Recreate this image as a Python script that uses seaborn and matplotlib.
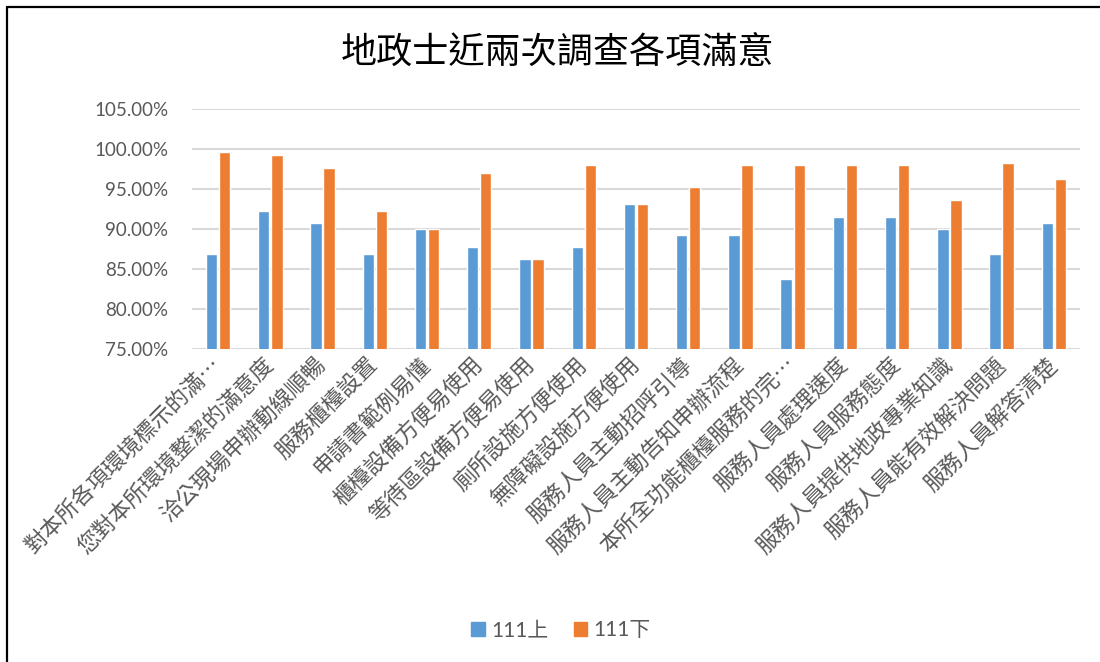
"""
地政士近兩次調查各項滿意度 — grouped bar chart (111上 vs 111下)
"""

import pandas as pd
import matplotlib
matplotlib.use("Agg")
import matplotlib.pyplot as plt
import seaborn as sns
from matplotlib.lines import Line2D
from matplotlib.ticker import FuncFormatter

# ---------------------------------------------------------------------------
# DATA (percent)
# ---------------------------------------------------------------------------
ITEMS = [
    "對本所各項環境標示的滿…",
    "您對本所環境整潔的滿意度",
    "洽公現場申辦動線順暢",
    "服務櫃檯設置",
    "申請書範例易懂",
    "櫃檯設備方便易使用",
    "等待區設備方便易使用",
    "廁所設施方便使用",
    "無障礙設施方便使用",
    "服務人員主動招呼引導",
    "服務人員主動告知申辦流程",
    "本所全功能櫃檯服務的完…",
    "服務人員處理速度",
    "服務人員服務態度",
    "服務人員提供地政專業知識",
    "服務人員能有效解決問題",
    "服務人員解答清楚",
]
SERIES = ["111上", "111下"]
SCORE_111A = [86.9, 92.3, 90.8, 86.9, 90.0, 87.7, 86.2, 87.7, 93.1,
              89.2, 89.2, 83.8, 91.5, 91.5, 90.0, 86.9, 90.8]
SCORE_111B = [99.6, 99.3, 97.6, 92.3, 90.0, 97.0, 86.2, 98.0, 93.1,
              95.3, 98.0, 98.0, 98.0, 98.0, 93.6, 98.3, 96.3]
Y_TICKS = [75, 80, 85, 90, 95, 100, 105]

COLORS = {"111上": "#5B9BD5", "111下": "#ED7D31"}
TEXT_GRAY = "#595959"
GRID_GRAY = "#D9D9D9"

sns.set_style("white")
plt.rcParams["font.family"] = ["Lato", "Noto Sans CJK TC", "DejaVu Sans"]
CJK = ["Noto Sans CJK TC", "DejaVu Sans"]

df = pd.DataFrame({
    "item": ITEMS * 2,
    "period": [SERIES[0]] * len(ITEMS) + [SERIES[1]] * len(ITEMS),
    "score": SCORE_111A + SCORE_111B,
})

fig = plt.figure(figsize=(11, 6.62), dpi=100)
ax = fig.add_axes([0.1745, 0.4728, 0.8073, 0.3625])

sns.barplot(data=df, x="item", y="score", hue="period", order=ITEMS,
            hue_order=SERIES, palette=COLORS, saturation=1, width=0.5,
            gap=0.13, errorbar=None, ax=ax, zorder=3, legend=False)

ax.set_ylim(75, 105)
ax.set_xlim(-0.5, len(ITEMS) - 0.5)
ax.set_yticks(Y_TICKS)
ax.yaxis.set_major_formatter(FuncFormatter(lambda v, _: f"{v:.2f}%"))
ax.grid(axis="y", color=GRID_GRAY, linewidth=1.5, zorder=0)
ax.set_axisbelow(True)
for s in ax.spines.values():
    s.set_visible(False)
ax.set_xlabel("")
ax.set_ylabel("")
ax.tick_params(axis="y", length=0, pad=17, labelsize=13.5, labelcolor=TEXT_GRAY)
ax.tick_params(axis="x", length=0, pad=9)
ax.set_xticks(range(len(ITEMS)))
ax.set_xticklabels(ITEMS, rotation=45, ha="right", va="center",
                   rotation_mode="anchor", family=CJK, fontsize=16,
                   color=TEXT_GRAY)

# title
fig.text(0.507, 0.921, "地政士近兩次調查各項滿意", ha="center", va="center",
         fontsize=26, family=CJK, color="black")

# legend
handles = [plt.Rectangle((0, 0), 1, 1, color=COLORS[s]) for s in SERIES]
fig.legend(handles, SERIES, loc="center", bbox_to_anchor=(0.51, 0.048),
           ncol=2, frameon=False, fontsize=15, labelcolor=TEXT_GRAY,
           handlelength=0.65, handleheight=0.65, handletextpad=0.3,
           columnspacing=1.2)

# chart frame (left + top edges visible in the crop)
fig.add_artist(Line2D([0.0068, 0.0068], [0, 0.9887], color="black", lw=1.6,
                      transform=fig.transFigure))
fig.add_artist(Line2D([0.0068, 1.0], [0.9887, 0.9887], color="black", lw=1.6,
                      transform=fig.transFigure))

fig.savefig("out.png", dpi=100)
